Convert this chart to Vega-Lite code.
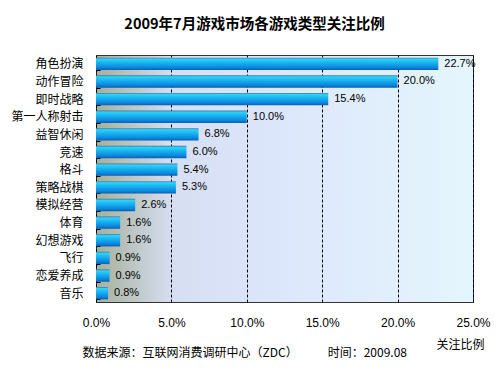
{
  "$schema": "https://vega.github.io/schema/vega-lite/v6.json",
  "width": 377,
  "height": 247,
  "autosize": {"type": "none"},
  "padding": {"left": 96, "top": 55, "right": 27, "bottom": 73},
  "background": "white",
  "config": {
    "view": {
      "fill": {"gradient": "linear", "x1": 0, "y1": 0, "x2": 1, "y2": 0,
        "stops": [
          {"offset": 0, "color": "#a6b09a"},
          {"offset": 0.2, "color": "#d6def2"},
          {"offset": 0.5, "color": "#dde7fb"},
          {"offset": 1, "color": "#e4f6fd"}
        ]},
      "stroke": "#333333",
      "strokeWidth": 1
    }
  },
  "title": {
    "text": "2009年7月游戏市场各游戏类型关注比例",
    "font": "Noto Sans CJK SC",
    "fontSize": 14.5,
    "fontWeight": "bold",
    "color": "#000000",
    "anchor": "middle",
    "dx": -30,
    "offset": 17
  },
  "data": {
    "values": [
      {"genre": "角色扮演", "share": 0.227},
      {"genre": "动作冒险", "share": 0.200},
      {"genre": "即时战略", "share": 0.154},
      {"genre": "第一人称射击", "share": 0.100},
      {"genre": "益智休闲", "share": 0.068},
      {"genre": "竞速", "share": 0.060},
      {"genre": "格斗", "share": 0.054},
      {"genre": "策略战棋", "share": 0.053},
      {"genre": "模拟经营", "share": 0.026},
      {"genre": "体育", "share": 0.016},
      {"genre": "幻想游戏", "share": 0.016},
      {"genre": "飞行", "share": 0.009},
      {"genre": "恋爱养成", "share": 0.009},
      {"genre": "音乐", "share": 0.008}
    ]
  },
  "encoding": {
    "y": {
      "field": "genre",
      "type": "nominal",
      "sort": null,
      "scale": {"paddingInner": 0.3, "paddingOuter": 0.15},
      "axis": {
        "title": "数据来源：互联网消费调研中心（ZDC）　　　时间：2009.08",
        "titleAngle": 0,
        "titleAlign": "left",
        "titleX": -14,
        "titleY": 297,
        "titleBaseline": "middle",
        "titleFont": "Noto Sans CJK SC",
        "titleFontSize": 12,
        "titleFontWeight": "normal",
        "titleColor": "#000000",
        "labelFont": "Noto Sans CJK SC",
        "labelFontSize": 12,
        "labelColor": "#000000",
        "labelPadding": 17,
        "ticks": true,
        "tickBand": "extent",
        "tickSize": -4,
        "tickColor": "#000000",
        "tickWidth": 1,
        "domain": false,
        "grid": false
      }
    },
    "x": {
      "field": "share",
      "type": "quantitative",
      "scale": {"domain": [0, 0.25], "nice": false},
      "axis": {
        "format": ".1%",
        "values": [0, 0.05, 0.1, 0.15, 0.2, 0.25],
        "labelFlush": false,
        "title": "关注比例",
        "titleX": 364,
        "titleY": 42,
        "titleBaseline": "middle",
        "titleAlign": "center",
        "titleFont": "Noto Sans CJK SC",
        "titleFontSize": 12,
        "titleFontWeight": "normal",
        "titleColor": "#000000",
        "labelFont": "Liberation Sans",
        "labelFontSize": 12,
        "labelColor": "#000000",
        "labelPadding": 15,
        "ticks": false,
        "domain": false,
        "grid": true,
        "gridColor": "#000000",
        "gridDash": [3, 2],
        "gridWidth": 1,
        "gridOpacity": 1
      }
    }
  },
  "layer": [
    {
      "mark": {
        "type": "bar",
        "color": {"gradient": "linear", "x1": 0, "y1": 0, "x2": 0, "y2": 1,
          "stops": [
            {"offset": 0, "color": "#4a6ea8"},
            {"offset": 0.12, "color": "#2ad6f6"},
            {"offset": 0.45, "color": "#18aef0"},
            {"offset": 0.8, "color": "#0c86dc"},
            {"offset": 1, "color": "#0a5eb0"}
          ]}
      }
    },
    {
      "mark": {"type": "text", "align": "left", "baseline": "middle", "dx": 6, "font": "Liberation Sans", "fontSize": 11, "color": "#000000"},
      "encoding": {"text": {"field": "share", "type": "quantitative", "format": ".1%"}}
    }
  ]
}
